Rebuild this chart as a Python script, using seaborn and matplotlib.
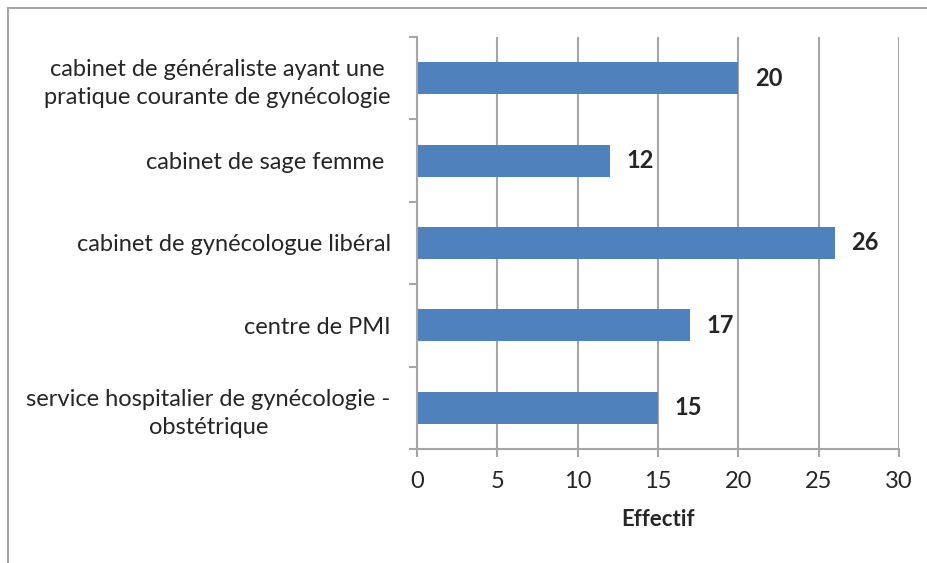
import matplotlib
matplotlib.use("Agg")
import matplotlib.pyplot as plt
import seaborn as sns
import pandas as pd
from matplotlib.patches import Rectangle

# ---------------------------------------------------------------------------
# Data
# ---------------------------------------------------------------------------
CATEGORIES = [
    "cabinet de généraliste ayant une\npratique courante de gynécologie",
    "cabinet de sage femme ",
    "cabinet de gynécologue libéral",
    "centre de PMI",
    "service hospitalier de gynécologie -\nobstétrique",
]
EFFECTIFS = [20, 12, 26, 17, 15]
X_TICKS = [0, 5, 10, 15, 20, 25, 30]

BAR_COLOR = "#4F81BD"
GRID_COLOR = "#A6A6A6"
TEXT_COLOR = "#262626"

sns.set_style("white")
plt.rcParams["font.family"] = ["Lato", "DejaVu Sans"]

df = pd.DataFrame({"categorie": CATEGORIES, "effectif": EFFECTIFS})

fig = plt.figure(figsize=(9.28, 5.63), dpi=100)
ax = fig.add_axes([0.4494, 0.2025, 0.5194, 0.7318])

sns.barplot(data=df, y="categorie", x="effectif", orient="h",
            color=BAR_COLOR, saturation=1, width=0.39, linewidth=0, ax=ax)

# value labels
for i, v in enumerate(EFFECTIFS):
    ax.annotate(str(v), xy=(v, i), xytext=(12, 0), textcoords="offset points",
                ha="left", va="center", fontsize=17, fontweight="bold",
                color=TEXT_COLOR)

ax.set_xlim(0, 30)
ax.set_ylim(4.5, -0.5)
ax.set_xticks(X_TICKS)
ax.set_xticklabels([str(t) for t in X_TICKS])
ax.set_yticks(range(len(CATEGORIES)))
ax.set_yticklabels(CATEGORIES, multialignment="center", linespacing=1.4)
ax.set_yticks([i - 0.5 for i in range(len(CATEGORIES) + 1)], minor=True)

ax.grid(axis="x", color=GRID_COLOR, linewidth=1.5)
ax.set_axisbelow(True)

for side in ["top", "right"]:
    ax.spines[side].set_visible(False)
for side in ["left", "bottom"]:
    ax.spines[side].set_color(GRID_COLOR)
    ax.spines[side].set_linewidth(1.5)

ax.tick_params(axis="y", which="major", length=0, pad=19,
               labelsize=17, labelcolor=TEXT_COLOR)
ax.tick_params(axis="y", which="minor", length=6, width=1.5,
               color=GRID_COLOR, left=True)
ax.tick_params(axis="x", which="major", length=6, width=1.5,
               color=GRID_COLOR, bottom=True, pad=10,
               labelsize=17, labelcolor=TEXT_COLOR)

ax.set_ylabel("")
ax.set_xlabel("Effectif", fontsize=16, fontweight="bold",
              color=TEXT_COLOR, labelpad=12)

# chart area border
fig.patches.append(Rectangle((8 / 928, -0.1), 1.2, 1 - 8 / 563 + 0.1,
                             transform=fig.transFigure, fill=False,
                             edgecolor=GRID_COLOR, linewidth=1.5))

fig.savefig("out.png", dpi=100)
plt.close(fig)
